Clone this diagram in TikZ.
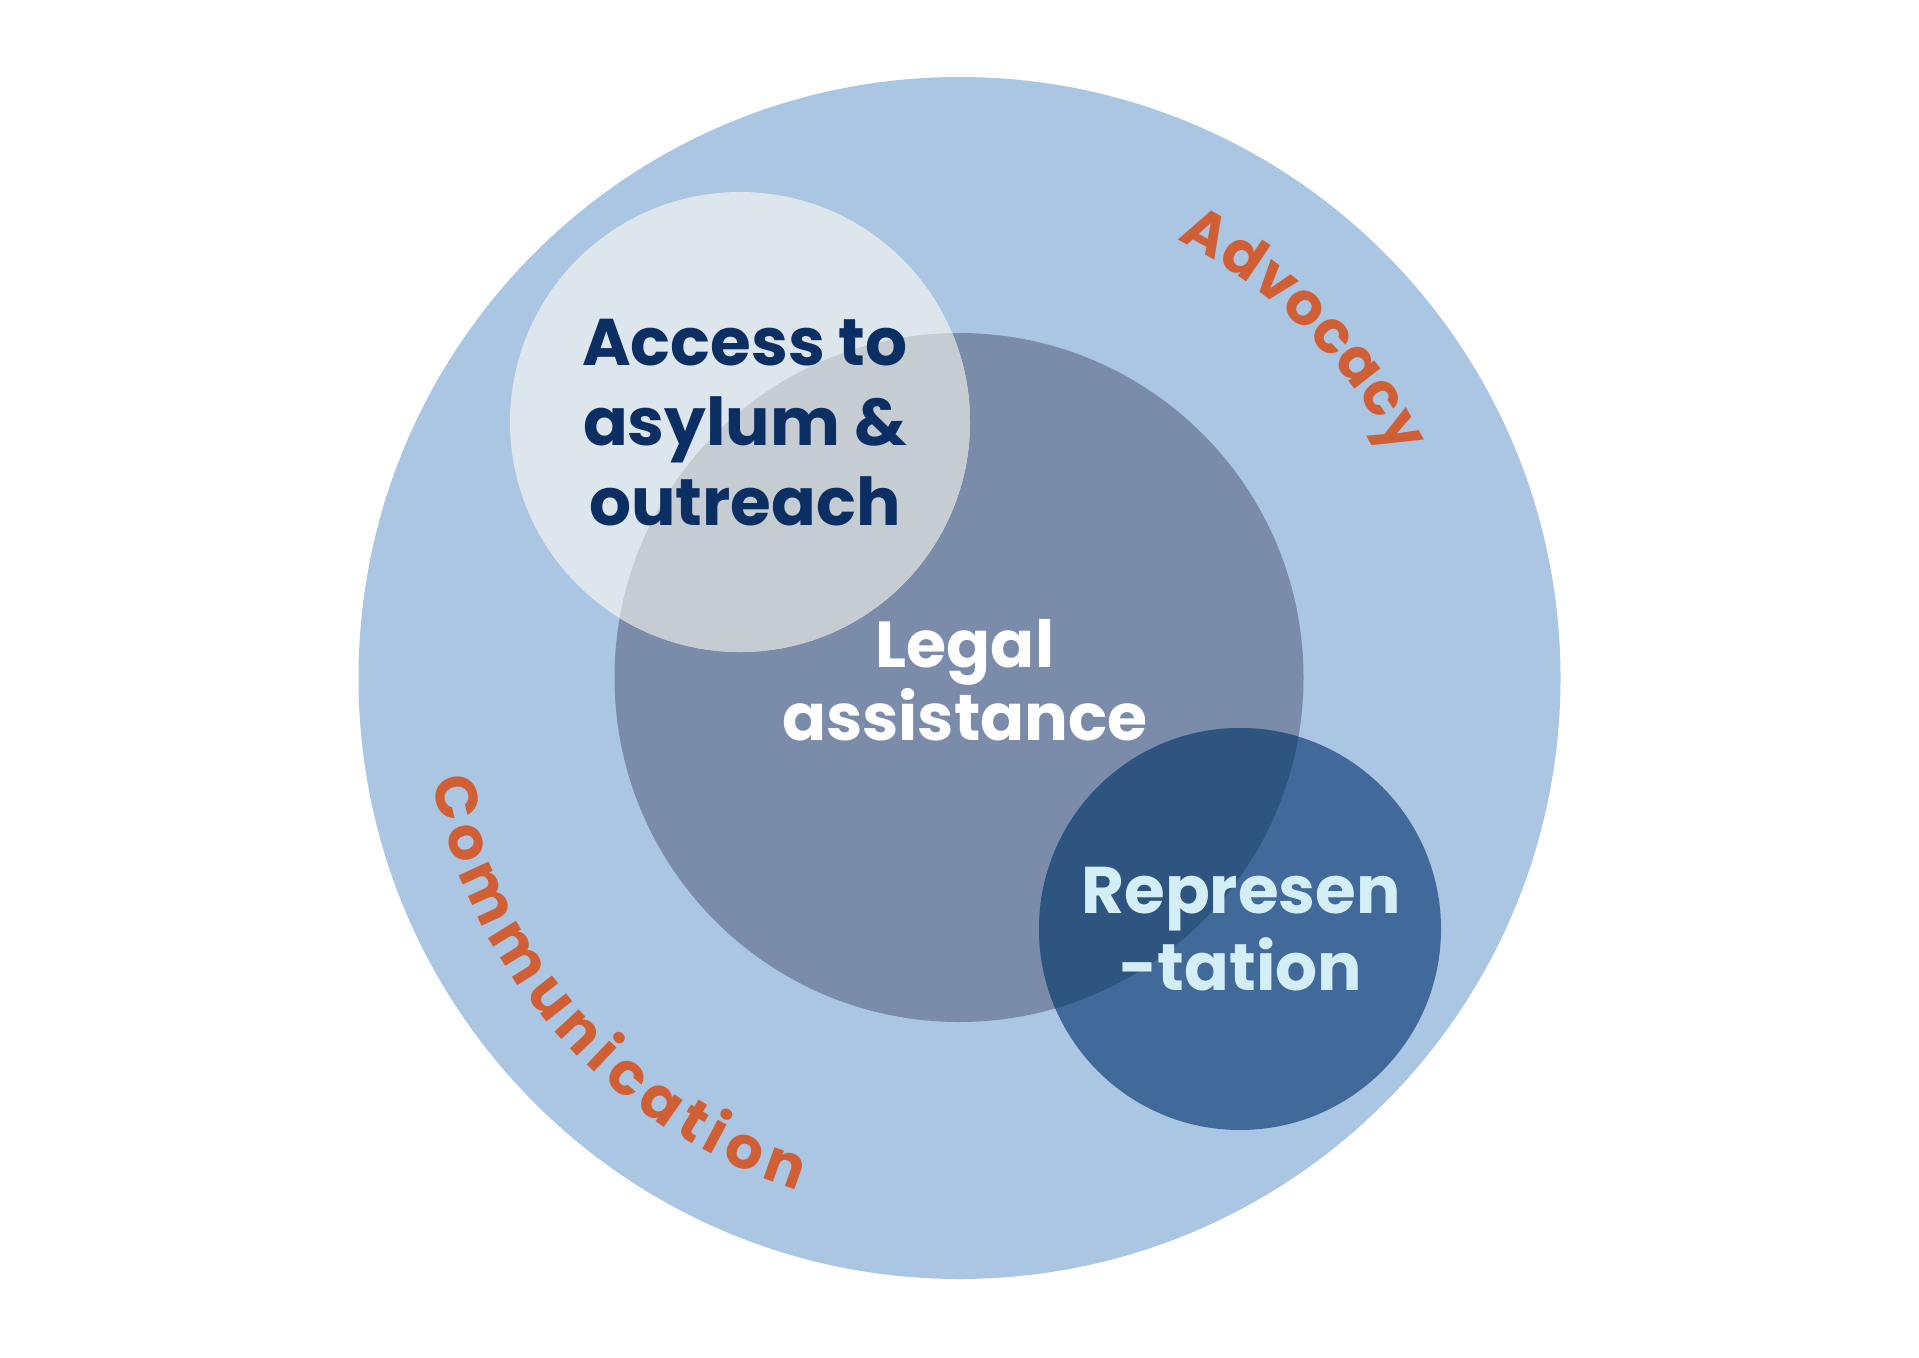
\documentclass[tikz,border=0pt]{standalone}
\usepackage{fontspec}
\setmainfont{Poppins}
\usetikzlibrary{decorations.text,calc}
\definecolor{outerblue}{HTML}{AAC6E2}
\definecolor{accessfill}{HTML}{DCE6EC}
\definecolor{legalfill}{HTML}{7A8CA9}
\definecolor{overlapA}{HTML}{C5CDD2}
\definecolor{reprfill}{HTML}{41699A}
\definecolor{overlapR}{HTML}{2E5580}
\definecolor{navytext}{HTML}{0B2F63}
\definecolor{reprtext}{HTML}{D4EEF8}
\definecolor{orangetext}{HTML}{D15F36}
\newcommand\curvefont{\fontsize{59}{59}\selectfont\bfseries\color{orangetext}}
\begin{document}
\begin{tikzpicture}[x=1pt,y=1pt,
  maintext/.style={align=center, inner sep=0pt, anchor=base}]
\useasboundingbox (0,0) rectangle (1919,-1357);
\fill[white] (0,0) rectangle (1919,-1357);
\coordinate (oc) at (959.5,-678);
\coordinate (lc) at (959,-677.5);
\coordinate (ac) at (740,-422);
\coordinate (rc) at (1240,-929);
\fill[outerblue] (oc) circle[radius=601];
\fill[legalfill] (lc) circle[radius=344.5];
\fill[accessfill] (ac) circle[radius=230];
\begin{scope}
  \clip (lc) circle[radius=344.5];
  \fill[overlapA] (ac) circle[radius=230];
\end{scope}
\fill[reprfill] (rc) circle[radius=201];
\begin{scope}
  \clip (lc) circle[radius=344.5];
  \fill[overlapR] (rc) circle[radius=201];
\end{scope}
\path[decorate, decoration={text along path, text={|\curvefont|Advocacy}, text align={fit to path}}]
  ($(oc)+(63.5:489)$) arc[start angle=63.5, end angle=27, radius=489];
\path[decorate, decoration={text along path, text={|\curvefont|Communication}, text align={fit to path}}]
  ($(oc)+(191:537)$) arc[start angle=191, end angle=252.5, radius=537];
\node[maintext, text=navytext, font=\fontsize{66}{80}\selectfont\bfseries] (access) at (745,-525) {Access to\\asylum \&\\outreach};
\node[maintext, text=white, font=\fontsize{65}{73}\selectfont\bfseries] (legal) at (965,-740) {Legal\\assistance};
\node[maintext, text=reprtext, font=\fontsize{66}{77}\selectfont\bfseries] (repr) at (1241,-990) {Represen\\-tation};
\end{tikzpicture}
\end{document}
